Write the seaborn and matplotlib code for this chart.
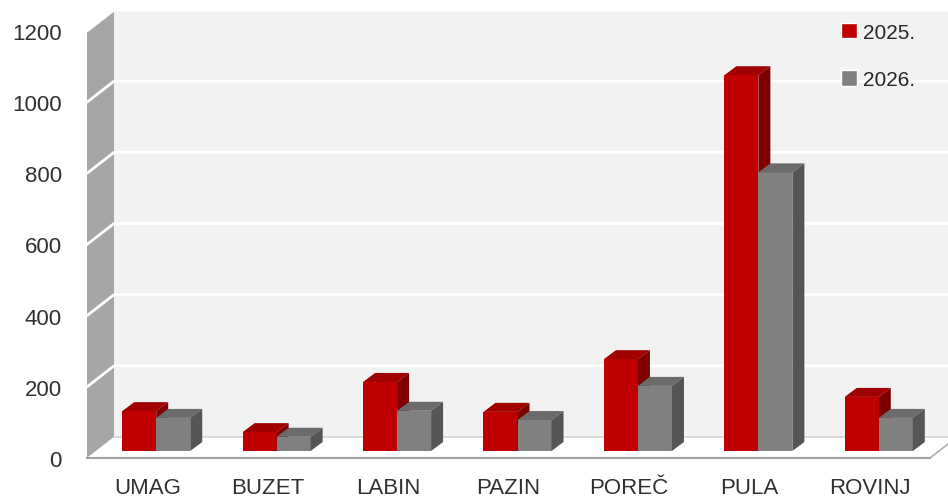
import matplotlib
matplotlib.use('Agg')
import matplotlib.pyplot as plt
import matplotlib.transforms as mtransforms
from matplotlib.patches import Polygon
import numpy as np
import pandas as pd
import seaborn as sns

# data
towns = ['UMAG', 'BUZET', 'LABIN', 'PAZIN', 'POREČ', 'PULA', 'ROVINJ']
years = ['2025.', '2026.']
vals_2025 = [112, 53, 194, 110, 258, 1056, 152]
vals_2026 = [93, 40, 113, 87, 183, 783, 93]
yticks = [0, 200, 400, 600, 800, 1000, 1200]

df = pd.DataFrame({
    'town': towns * 2,
    'year': [years[0]] * len(towns) + [years[1]] * len(towns),
    'value': vals_2025 + vals_2026,
})

sns.set_style('white')
plt.rcParams['font.family'] = ['Liberation Sans', 'DejaVu Sans']

front_cols = ['#c00000', '#808080']
top_cols = ['#a00000', '#6b6b6b']
side_cols = ['#7e0000', '#555555']

W, H = 843, 427   # axes size in pixels
fig = plt.figure(figsize=(9.48, 5.02), dpi=100)
ax = fig.add_axes([87 / 948, 43 / 502, W / 948, H / 502])

sns.barplot(data=df, x='town', y='value', hue='year', palette=front_cols,
            width=0.565, gap=0, saturation=1, ax=ax)
ax.set_ylim(0, 1200)
ax.set_xlim(-0.5, len(towns) - 0.5)
ax.patch.set_visible(False)

# depth offsets (pixels): back wall, bar plane, bar depth
wdx, wdy = 27 / W, 21 / H
bdx, bdy = 12 / W, 9 / H
bar_off = mtransforms.ScaledTranslation(0.09, 0.07, fig.dpi_scale_trans)
bar_tr = ax.transAxes + bar_off

# back wall, left wall, floor
ax.add_patch(Polygon([(wdx, wdy), (1 + wdx, wdy), (1 + wdx, 1 + wdy), (wdx, 1 + wdy)],
                     closed=True, fc='#f2f2f2', ec='none', transform=ax.transAxes,
                     clip_on=False, zorder=0.2))
ax.add_patch(Polygon([(0, 0), (wdx, wdy), (wdx, 1 + wdy), (0, 1)],
                     closed=True, fc='#a6a6a6', ec='none', transform=ax.transAxes,
                     clip_on=False, zorder=0.3))
ax.add_patch(Polygon([(0, 0), (1, 0), (1 + wdx, wdy), (wdx, wdy)],
                     closed=True, fc='white', ec='none', transform=ax.transAxes,
                     clip_on=False, zorder=0.3))
ax.plot([wdx, 1 + wdx], [wdy, wdy], color='#d4d4d4', lw=1.2,
        transform=ax.transAxes, clip_on=False, zorder=0.4)
ax.plot([1, 1 + wdx], [0, wdy], color='#b0b0b0', lw=1.2,
        transform=ax.transAxes, clip_on=False, zorder=0.4)
for t in yticks[1:]:
    ya = t / 1200
    ax.plot([0, wdx, 1 + wdx], [ya, ya + wdy, ya + wdy], color='white', lw=2,
            transform=ax.transAxes, clip_on=False, zorder=0.4)

# 3D faces for the bars
nx = len(towns)
for i, cont in enumerate(ax.containers):
    for p in cont:
        x, w, h = p.get_x(), p.get_width(), p.get_height()
        xa0, xa1 = (x + 0.5) / nx, (x + w + 0.5) / nx
        ya = h / 1200
        p.set_transform(ax.transData + bar_off)
        p.set_clip_on(False)
        p.set_zorder(3 + i)
        p.set_edgecolor('none')
        ax.add_patch(Polygon([(xa0, ya), (xa1, ya), (xa1 + bdx, ya + bdy), (xa0 + bdx, ya + bdy)],
                             closed=True, fc=top_cols[i], ec='none', transform=bar_tr,
                             clip_on=False, zorder=3 + i))
        ax.add_patch(Polygon([(xa1, 0), (xa1 + bdx, bdy), (xa1 + bdx, ya + bdy), (xa1, ya)],
                             closed=True, fc=side_cols[i], ec='none', transform=bar_tr,
                             clip_on=False, zorder=3 + i))

# axes, ticks
sns.despine(ax=ax, left=True, top=True, right=True)
ax.spines['bottom'].set_color('#a0a0a0')
ax.spines['bottom'].set_linewidth(1.5)
ax.set_yticks(yticks)
ax.set_xticks(range(nx))
ax.set_xticklabels(towns)
ax.set_xticks(np.arange(-0.5, nx, 1), minor=True)
ax.tick_params(axis='y', length=0, pad=18, labelsize=16, labelcolor='#303030')
ax.tick_params(axis='x', which='major', length=0, pad=14, labelsize=16, labelcolor='#303030')
ax.tick_params(axis='x', which='minor', length=6, width=1.5, color='#a0a0a0')
ax.set_xlabel('')
ax.set_ylabel('')

sns.move_legend(ax, 'upper left', bbox_to_anchor=(841 / 948, 0.952),
                bbox_transform=fig.transFigure, frameon=False, title=None,
                fontsize=15, handlelength=0.75, handleheight=0.75,
                handletextpad=0.3, labelspacing=1.35, borderpad=0, borderaxespad=0)

fig.savefig('out.png', dpi=100)
